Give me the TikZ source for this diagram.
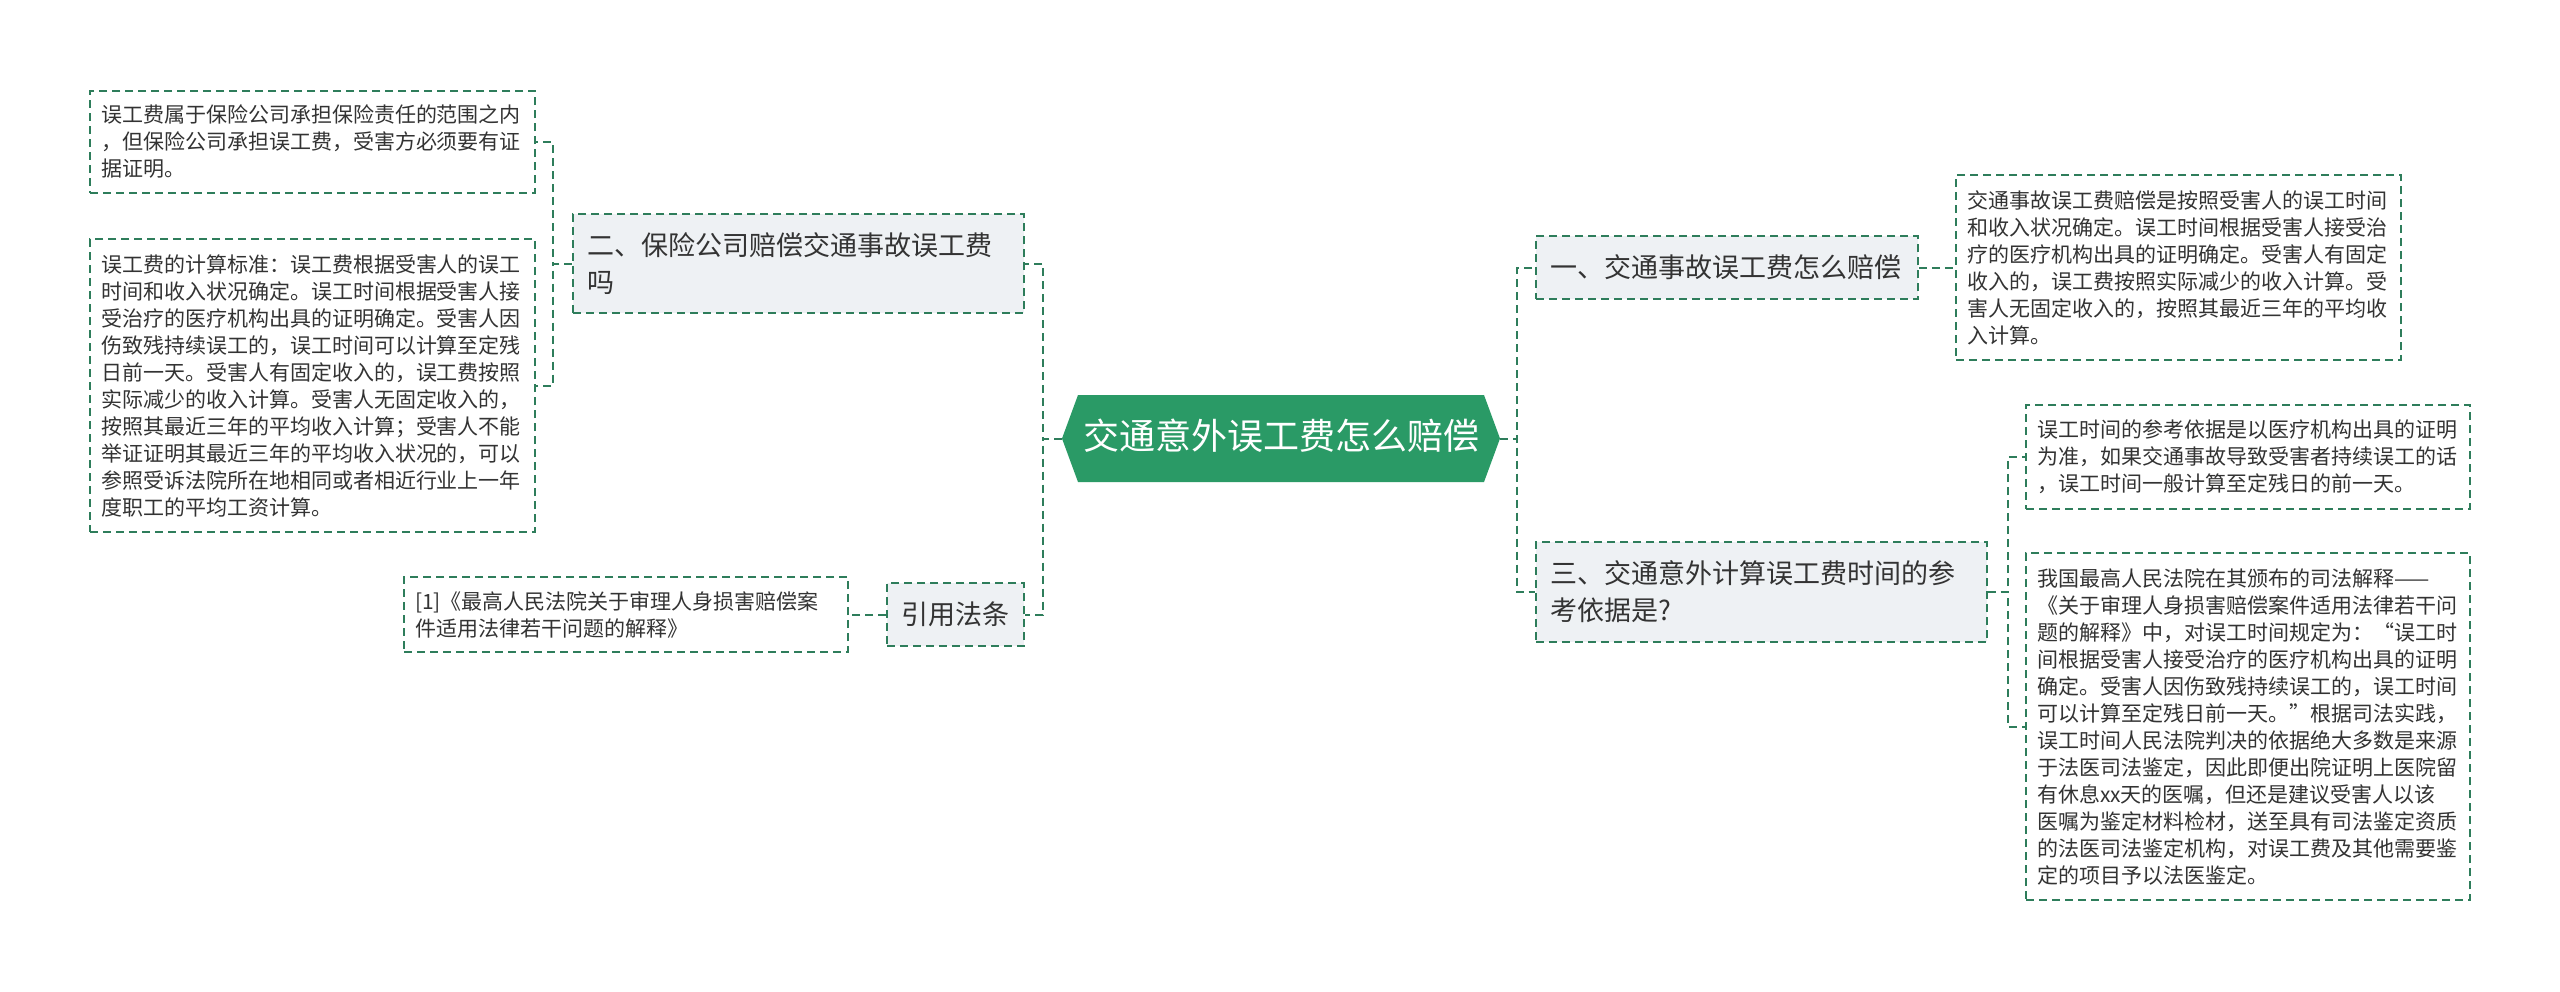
\documentclass[tikz,border=0pt]{standalone}
\usepackage{fontspec}
\setmainfont{Noto Sans CJK SC}
\definecolor{lineg}{HTML}{2E7D5B}
\definecolor{hexg}{HTML}{2A9A66}
\definecolor{boxfill}{HTML}{EEF1F4}
\definecolor{txt}{HTML}{333333}
\begin{document}
\begin{tikzpicture}[x=1pt,y=-1pt,
 conn/.style={draw=lineg, line width=2pt, dash pattern=on 8pt off 5pt},
 leaf/.style={draw=lineg, line width=1.6pt, dash pattern=on 8pt off 5pt, fill=white,
   inner xsep=11pt, inner ysep=0pt, align=left, text=txt, anchor=center,
   font=\fontsize{21}{27}\selectfont},
 branch/.style={leaf, fill=boxfill, inner xsep=14pt, font=\fontsize{27}{37}\selectfont},
 ]
\useasboundingbox[fill=white] (0,0) rectangle (2560,991);

% central hexagon
\fill[hexg] (1062,438.5) -- (1078,395) -- (1484,395) -- (1500,438.5) -- (1484,482) -- (1078,482) -- cycle;
\node[text=white, font=\fontsize{36}{40}\selectfont] (center) at (1281,436) {交通意外误工费怎么赔偿};
\coordinate (cL) at (1062,438.5);
\coordinate (cR) at (1500,438.5);

% left side
\node[branch, minimum width=451, minimum height=99, text width=423] (b2) at (798.5,263.5)
 {二、保险公司赔偿交通事故误工费\\吗};
\node[leaf, minimum width=445, minimum height=102, text width=423] (l1) at (312.5,142)
 {误工费属于保险公司承担保险责任的范围之内\\，但保险公司承担误工费，受害方必须要有证\\据证明。};
\node[leaf, minimum width=445, minimum height=293, text width=423] (l2) at (312.5,385.5)
 {误工费的计算标准：误工费根据受害人的误工\\时间和收入状况确定。误工时间根据受害人接\\受治疗的医疗机构出具的证明确定。受害人因\\伤致残持续误工的，误工时间可以计算至定残\\日前一天。受害人有固定收入的，误工费按照\\实际减少的收入计算。受害人无固定收入的，\\按照其最近三年的平均收入计算；受害人不能\\举证证明其最近三年的平均收入状况的，可以\\参照受诉法院所在地相同或者相近行业上一年\\度职工的平均工资计算。};
\node[branch, minimum width=137, minimum height=63, align=center, inner xsep=0pt] (yy) at (955.5,614.5) {引用法条};
\node[leaf, minimum width=444, minimum height=75, text width=422] (refl) at (626,614.5)
 {[1]《最高人民法院关于审理人身损害赔偿案\\件适用法律若干问题的解释》};

% right side
\node[branch, minimum width=382, minimum height=63, text width=354] (b1) at (1727,267.5)
 {一、交通事故误工费怎么赔偿};
\node[leaf, minimum width=445, minimum height=185, text width=423] (r1) at (2178.5,267.5)
 {交通事故误工费赔偿是按照受害人的误工时间\\和收入状况确定。误工时间根据受害人接受治\\疗的医疗机构出具的证明确定。受害人有固定\\收入的，误工费按照实际减少的收入计算。受\\害人无固定收入的，按照其最近三年的平均收\\入计算。};
\node[branch, minimum width=451, minimum height=100, text width=423] (b3) at (1761.5,592)
 {三、交通意外计算误工费时间的参\\考依据是?};
\node[leaf, minimum width=444, minimum height=104, text width=422] (r3a) at (2248,457)
 {误工时间的参考依据是以医疗机构出具的证明\\为准，如果交通事故导致受害者持续误工的话\\，误工时间一般计算至定残日的前一天。};
\node[leaf, minimum width=444, minimum height=347, text width=422] (r3b) at (2248,726.5)
 {我国最高人民法院在其颁布的司法解释——\\《关于审理人身损害赔偿案件适用法律若干问\\题的解释》中，对误工时间规定为：“误工时\\间根据受害人接受治疗的医疗机构出具的证明\\确定。受害人因伤致残持续误工的，误工时间\\可以计算至定残日前一天。”根据司法实践，\\误工时间人民法院判决的依据绝大多数是来源\\于法医司法鉴定，因此即便出院证明上医院留\\有休息xx天的医嘱，但还是建议受害人以该\\医嘱为鉴定材料检材，送至具有司法鉴定资质\\的法医司法鉴定机构，对误工费及其他需要鉴\\定的项目予以法医鉴定。};

% connectors
\draw[conn] (cL) -- ++(-19,0) |- (b2.east);
\draw[conn] (cL) -- ++(-19,0) |- (yy.east);
\draw[conn] (cR) -- ++(17,0) |- (b1.west);
\draw[conn] (cR) -- ++(17,0) |- (b3.west);
\draw[conn] (b1.east) -- (r1.west);
\draw[conn] (b3.east) -- ++(20,0) |- (r3a.west);
\draw[conn] (b3.east) -- ++(20,0) |- (r3b.west);
\draw[conn] (b2.west) -- ++(-19,0) |- (l1.east);
\draw[conn] (b2.west) -- ++(-19,0) |- (l2.east);
\draw[conn] (yy.west) -- (refl.east);
\end{tikzpicture}
\end{document}
